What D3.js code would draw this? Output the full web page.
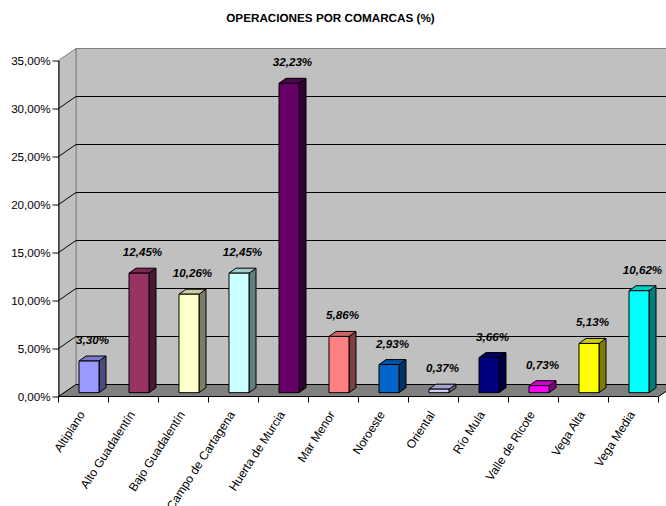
<!DOCTYPE html>
<html>
<head>
<meta charset="utf-8">
<script src="https://cdnjs.cloudflare.com/ajax/libs/d3/7.8.5/d3.min.js"></script>
<style>
  html, body { margin: 0; padding: 0; background: #fff; }
  svg { display: block; }
  text { font-family: "Liberation Sans", Arial, sans-serif; fill: #000; text-rendering: geometricPrecision; }
</style>
</head>
<body>
<div id="chart"></div>
<script>
var comarcas = ['Altiplano', 'Alto Guadalentín', 'Bajo Guadalentín', 'Campo de Cartagena',
  'Huerta de Murcia', 'Mar Menor', 'Noroeste', 'Oriental', 'Río Mula', 'Valle de Ricote',
  'Vega Alta', 'Vega Media'];
var valores = [3.30, 12.45, 10.26, 12.45, 32.23, 5.86, 2.93, 0.37, 3.66, 0.73, 5.13, 10.62];
var colores = ['#9999ff', '#993366', '#ffffcc', '#ccffff', '#660066', '#ff8080',
  '#0066cc', '#ccccff', '#000080', '#ff00ff', '#ffff00', '#00ffff'];
var ticks = [0, 5, 10, 15, 20, 25, 30, 35];
var titulo = 'OPERACIONES POR COMARCAS (%)';

var width = 666, height = 506;
var wallDx = 17.5, wallDy = -12;  // depth of the walls
var barDx = 7, barDy = -5;        // depth of a bar

var svg = d3.select('#chart').append('svg')
  .attr('width', width)
  .attr('height', height);

var x = d3.scaleBand().domain(comarcas).range([58.5, 658.5]);
var y = d3.scaleLinear().domain([0, 35]).range([396.5, 60.5]);

var fmt = d3.formatLocale({ decimal: ',', thousands: '.', grouping: [3], currency: ['', ''] }).format('.2f');
var pct = function(v) { return fmt(v) + '%'; };

function poly(pts) { return 'M' + pts.map(function(p) { return p.join(','); }).join('L') + 'Z'; }

var x0 = x.range()[0], x1 = x.range()[1];

svg.append('text')
  .attr('x', 330.5)
  .attr('y', 22)
  .attr('text-anchor', 'middle')
  .attr('font-size', 11.7)
  .attr('font-weight', 'bold')
  .text(titulo);

// walls and floor
svg.append('path')
  .attr('d', poly([[x0 + wallDx, y(35) + wallDy], [x1 + wallDx, y(35) + wallDy], [x1 + wallDx, y(0) + wallDy], [x0 + wallDx, y(0) + wallDy]]))
  .attr('fill', '#c0c0c0').attr('stroke', '#808080').attr('stroke-width', 1);
svg.append('path')
  .attr('d', poly([[x0, y(35)], [x0 + wallDx, y(35) + wallDy], [x0 + wallDx, y(0) + wallDy], [x0, y(0)]]))
  .attr('fill', '#c0c0c0').attr('stroke', '#808080').attr('stroke-width', 1);
svg.append('path')
  .attr('d', poly([[x0, y(0)], [x0 + wallDx, y(0) + wallDy], [x1 + wallDx, y(0) + wallDy], [x1, y(0)]]))
  .attr('fill', '#808080').attr('stroke', '#808080').attr('stroke-width', 1);

// gridlines, running round the side wall
svg.append('g').selectAll('path')
  .data(ticks.slice(0, -1))
  .join('path')
    .attr('d', function(d) {
      return 'M' + x0 + ',' + y(d) + 'L' + (x0 + wallDx) + ',' + (y(d) + wallDy) + 'L' + (x1 + wallDx) + ',' + (y(d) + wallDy);
    })
    .attr('fill', 'none')
    .attr('stroke', '#000')
    .attr('stroke-width', 1);

// axes
var yAxis = d3.axisLeft(y).tickValues(ticks).tickFormat(pct).tickSize(6).tickSizeOuter(0);
var gy = svg.append('g').attr('transform', 'translate(' + x0 + ',0)').call(yAxis);
gy.selectAll('text').attr('font-size', 11.6).attr('font-family', '"Liberation Sans", Arial, sans-serif').attr('dx', 1);
gy.selectAll('line, path').attr('stroke', '#000');

var gx = svg.append('g').attr('transform', 'translate(0,' + y(0) + ')');
gx.append('line').attr('x1', x0).attr('x2', x1).attr('stroke', '#000');
gx.selectAll('line.tick')
  .data(comarcas.concat([null]))
  .join('line')
    .attr('class', 'tick')
    .attr('x1', function(d) { return d === null ? x1 : x(d); })
    .attr('x2', function(d) { return d === null ? x1 : x(d); })
    .attr('y2', 6)
    .attr('stroke', '#000');
gx.append('line').attr('x1', x1).attr('y1', 0).attr('x2', x1 + wallDx).attr('y2', wallDy).attr('stroke', '#000');

gx.selectAll('text')
  .data(comarcas)
  .join('text')
    .attr('transform', function(d) {
      return 'translate(' + (x(d) + x.bandwidth() / 2 + 2) + ',18) rotate(-57)';
    })
    .attr('text-anchor', 'end')
    .attr('font-size', 12)
    .text(function(d) { return d; });

// bars
var bars = svg.append('g').selectAll('g')
  .data(comarcas.map(function(c, i) { return { c: c, v: valores[i], col: colores[i] }; }))
  .join('g');

var barW = 20, barOff = 20.5, baseDrop = 3.8;
function bx(d) { return x(d.c) + barOff; }
function by(v) { return y(v) - baseDrop; }

bars.append('path') // side
  .attr('d', function(d) {
    var r = bx(d) + barW;
    return poly([[r, by(d.v)], [r + barDx, by(d.v) + barDy], [r + barDx, by(0) + barDy], [r, by(0)]]);
  })
  .attr('fill', function(d) { return d3.rgb(d.col).darker(2); });
bars.append('path') // top
  .attr('d', function(d) {
    var l = bx(d);
    return poly([[l, by(d.v)], [l + barDx, by(d.v) + barDy], [l + barW + barDx, by(d.v) + barDy], [l + barW, by(d.v)]]);
  })
  .attr('fill', function(d) { var c = d3.rgb(d.col); return d3.rgb(c.r * 0.8, c.g * 0.8, c.b * 0.8); });
bars.append('rect') // front
  .attr('x', bx)
  .attr('y', function(d) { return by(d.v); })
  .attr('width', barW)
  .attr('height', function(d) { return by(0) - by(d.v); })
  .attr('fill', function(d) { return d.col; });
bars.selectAll('path, rect')
  .attr('stroke', '#000')
  .attr('stroke-width', 1)
  .attr('stroke-linejoin', 'round');

bars.append('text')
  .attr('x', function(d) { return x(d.c) + x.bandwidth() / 2 + 9; })
  .attr('y', function(d) { return by(d.v) + barDy - 12; })
  .attr('text-anchor', 'middle')
  .attr('font-size', 11.6)
  .attr('font-weight', 'bold')
  .attr('font-style', 'italic')
  .text(function(d) { return pct(d.v); });
</script>
</body>
</html>
